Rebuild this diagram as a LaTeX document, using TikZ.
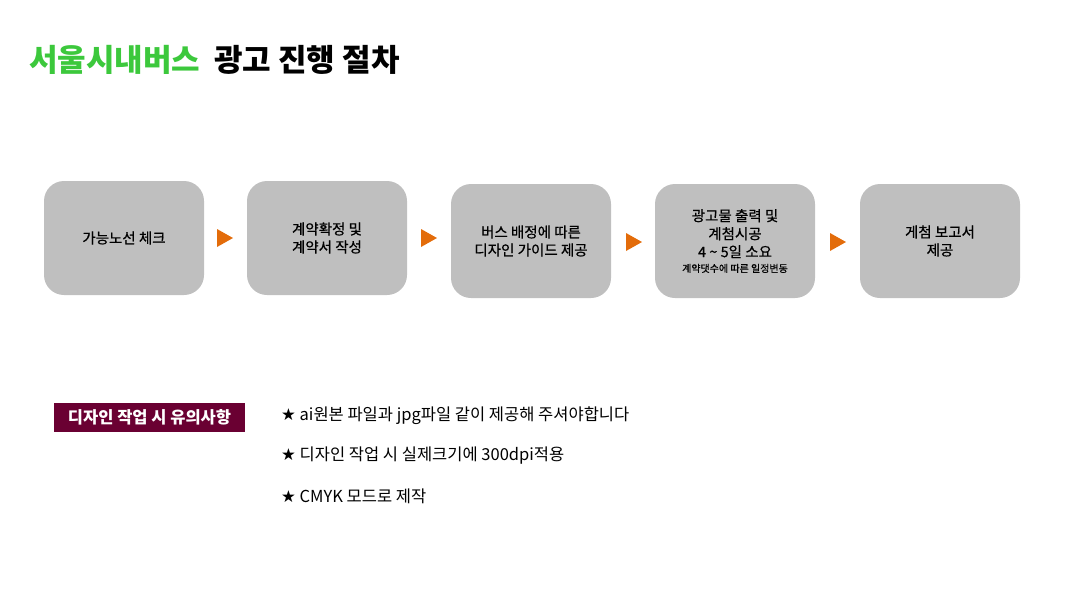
\documentclass[tikz,border=0pt]{standalone}
\usepackage{fontspec}
\setmainfont{Noto Sans CJK KR}[FakeBold=0]
\newfontfamily\med{Noto Sans CJK KR}[FakeBold=0.6]
\newfontfamily\sym{DejaVu Sans}
\definecolor{boxg}{HTML}{BFBFBF}
\definecolor{orng}{HTML}{E36C0A}
\definecolor{wine}{HTML}{6A0032}
\definecolor{grn}{HTML}{3CC83C}
\begin{document}
\begin{tikzpicture}[x=1pt,y=-1pt,
  stepbox/.style={fill=boxg,rounded corners=20pt,minimum width=160pt,minimum height=114pt,align=center,font=\med\fontsize{14.5}{18}\selectfont,inner sep=0pt},
  tri/.style={fill=orng,draw=none},
  bul/.style={anchor=west,font=\fontsize{16.5}{18}\selectfont,inner sep=0pt}]
\useasboundingbox (0,0) rectangle (1070,590);
\node[anchor=west,inner sep=0pt,font=\fontsize{31}{34}\selectfont\bfseries] (title) at (29,60) {\textcolor{grn}{서울시내버스}\hspace{14pt}광고 진행 절차};
\node[stepbox] (b1) at (124,238) {가능노선 체크};
\node[stepbox] (b2) at (327,238) {계약확정 및\\계약서 작성};
\node[stepbox] (b3) at (531,241) {버스 배정에 따른\\디자인 가이드 제공};
\node[stepbox] (b4) at (735,241) {광고물 출력 및\\계첨시공\\4 \textasciitilde{} 5일 소요\\[-3pt]{\fontsize{10}{11}\selectfont 계약댓수에 따른 일정변동}};
\node[stepbox] (b5) at (940,241) {게첨 보고서\\제공};
\foreach \x/\y in {217/238,421/238,626/242,830/242}
  \fill[tri] (\x,\y-9) -- (\x+16,\y) -- (\x,\y+9) -- cycle;
\node[fill=wine,text=white,minimum width=191pt,minimum height=29pt,inner sep=0pt,font=\fontsize{16.5}{18}\selectfont\bfseries] (lab) at (149.5,417) {디자인 작업 시 유의사항};
\node[bul] (t1) at (281,416) {{\sym ★} ai원본 파일과 jpg파일 같이 제공해 주셔야합니다};
\node[bul] (t2) at (281,456) {{\sym ★} 디자인 작업 시 실제크기에 300dpi적용};
\node[bul] (t3) at (281,496) {{\sym ★} CMYK 모드로 제작};
\end{tikzpicture}
\end{document}
